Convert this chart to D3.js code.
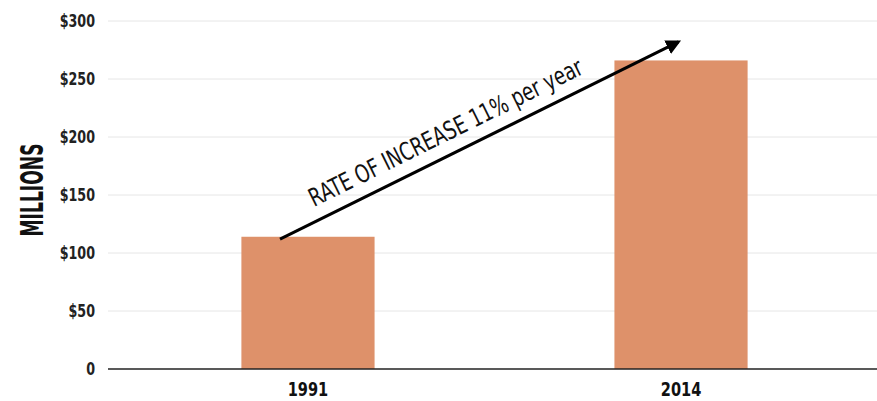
<!DOCTYPE html>
<html>
<head>
<meta charset="utf-8">
<script src="https://cdn.jsdelivr.net/npm/d3@7"></script>
<style>
  body { margin: 0; background: #fff; }
  text { font-family: "Liberation Sans Narrow", "DejaVu Sans Condensed", "Roboto Condensed", sans-serif; }
</style>
</head>
<body>
<div id="chart"></div>
<script>
const years = ["1991", "2014"];
const values = [114, 266];
const yTicks = [0, 50, 100, 150, 200, 250, 300];
const arrowFrom = {year: "1991", pos: 0.29, value: 112};
const arrowTo = {year: "2014", pos: 0.48, value: 282};
const arrowLabel = "RATE OF INCREASE 11% per year";

let margin = {top: 21, right: 0, bottom: 32, left: 108},
  width = 877 - margin.left - margin.right,
  height = 401 - margin.top - margin.bottom;

// squeeze text horizontally to mimic the condensed face of the original
function squeeze(sel, k) {
  sel.each(function () {
    let w = this.getComputedTextLength();
    d3.select(this)
      .attr("textLength", w * k)
      .attr("lengthAdjust", "spacingAndGlyphs");
  });
}

let svg = d3.select("#chart")
  .append("svg")
  .attr("width", 877)
  .attr("height", 401)
  .append("g")
  .attr("transform", "translate(" + margin.left + "," + margin.top + ")");

let x = d3.scaleBand()
  .domain(years)
  .range([0, 773])
  .paddingInner(0.643)
  .paddingOuter(0.3576);

let y = d3.scaleLinear()
  .domain([0, 300])
  .range([height, 0]);

// gridlines
svg.append("g")
  .selectAll("line")
  .data(yTicks.slice(1))
  .join("line")
  .attr("x1", 0)
  .attr("x2", width)
  .attr("y1", d => y(d))
  .attr("y2", d => y(d))
  .attr("stroke", "#e6e6e6")
  .attr("stroke-width", 1);

// y axis labels
let yAxis = svg.append("g")
  .call(d3.axisLeft(y).tickValues(yTicks).tickSize(0).tickPadding(13)
    .tickFormat(d => d === 0 ? "0" : "$" + d));
yAxis.select(".domain").remove();
yAxis.selectAll("text")
  .style("font-size", "17px")
  .style("font-weight", "bold")
  .attr("fill", "#222")
  .call(squeeze, 0.83);

// bars
svg.selectAll("rect.bar")
  .data(years)
  .join("rect")
  .attr("class", "bar")
  .attr("x", d => x(d))
  .attr("width", x.bandwidth())
  .attr("y", (d, i) => y(values[i]))
  .attr("height", (d, i) => height - y(values[i]))
  .attr("fill", "#de916a");

// baseline
svg.append("line")
  .attr("x1", 0)
  .attr("x2", width)
  .attr("y1", y(0))
  .attr("y2", y(0))
  .attr("stroke", "#222")
  .attr("stroke-width", 1.5);

// x axis labels
let xAxis = svg.append("g")
  .attr("transform", "translate(0," + height + ")")
  .call(d3.axisBottom(x).tickSize(0).tickPadding(13));
xAxis.select(".domain").remove();
xAxis.selectAll("text")
  .style("font-size", "20px")
  .style("font-weight", "bold")
  .attr("fill", "#111")
  .call(squeeze, 0.81);

// y title
svg.append("text")
  .attr("transform", "translate(" + (-65) + "," + (y(150) - 5) + ") rotate(-90)")
  .attr("text-anchor", "middle")
  .attr("textLength", 93)
  .attr("lengthAdjust", "spacingAndGlyphs")
  .style("font-size", "32px")
  .style("font-weight", "bold")
  .attr("fill", "#111")
  .text("MILLIONS");

// arrow annotation
svg.append("defs").append("marker")
  .attr("id", "head")
  .attr("viewBox", "0 0 10 10")
  .attr("refX", 8)
  .attr("refY", 5)
  .attr("markerWidth", 5)
  .attr("markerHeight", 5)
  .attr("orient", "auto")
  .append("path")
  .attr("d", "M0,0 L10,5 L0,10 Z")
  .attr("fill", "#000");

let ax1 = x(arrowFrom.year) + x.bandwidth() * arrowFrom.pos,
  ay1 = y(arrowFrom.value),
  ax2 = x(arrowTo.year) + x.bandwidth() * arrowTo.pos,
  ay2 = y(arrowTo.value);

svg.append("line")
  .attr("x1", ax1)
  .attr("y1", ay1)
  .attr("x2", ax2)
  .attr("y2", ay2)
  .attr("stroke", "#000")
  .attr("stroke-width", 3)
  .attr("marker-end", "url(#head)");

let angle = Math.atan2(ay2 - ay1, ax2 - ax1) * 180 / Math.PI;
svg.append("text")
  .attr("transform", "translate(" + (ax1 + 34) + "," + (ay1 - 32) + ") rotate(" + angle + ")")
  .attr("textLength", 302)
  .attr("lengthAdjust", "spacingAndGlyphs")
  .style("font-size", "25px")
  .attr("fill", "#111")
  .text(arrowLabel);
</script>
</body>
</html>
